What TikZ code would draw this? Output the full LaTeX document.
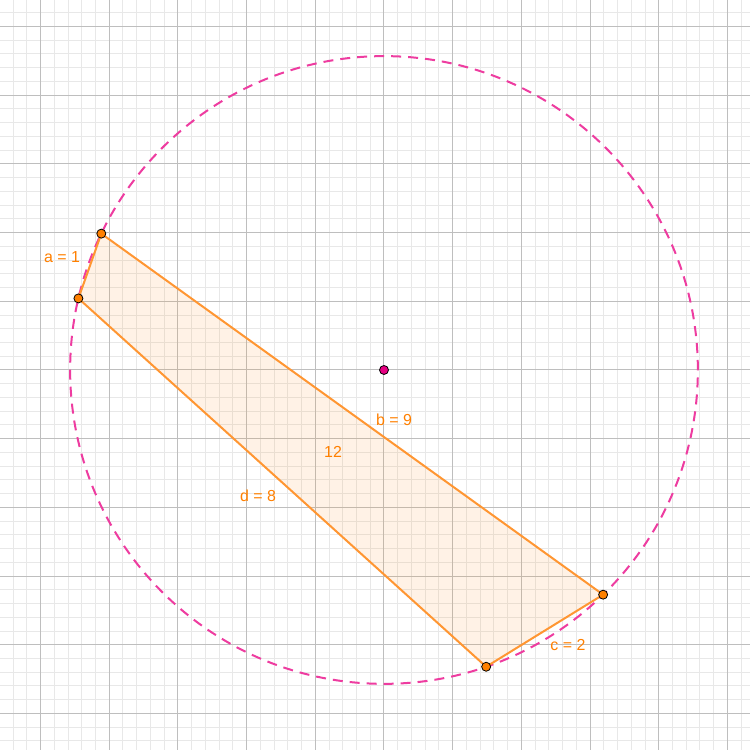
\documentclass[tikz,border=0pt]{standalone}
\usepackage{fontspec}
\setmainfont{Liberation Sans}
\usepackage{xcolor}
\usepackage{tikz}

\definecolor{gridlight}{RGB}{232,232,232}
\definecolor{griddark}{RGB}{190,190,190}
\definecolor{circpink}{RGB}{238,60,160}
\definecolor{centremag}{RGB}{230,0,130}
\definecolor{ggorange}{RGB}{255,150,50}
\definecolor{dotorange}{RGB}{255,128,0}
\definecolor{lblorange}{RGB}{255,128,0}

\begin{document}
\begin{tikzpicture}[
  x=68.7bp, y=68.7bp,
  minorgrid/.style={draw=gridlight, line width=1bp},
  majorgrid/.style={draw=griddark, line width=1bp},
  circ/.style={draw=circpink, line width=2bp, dash pattern=on 10bp off 7bp},
  side/.style={draw=ggorange, line width=2bp, fill=ggorange, fill opacity=0.12, line join=round},
  vtx/.style={circle, draw=black, line width=0.8bp, fill=dotorange, inner sep=0pt, minimum size=9bp},
  ctr/.style={circle, draw=black, line width=0.8bp, fill=centremag, inner sep=0pt, minimum size=9bp},
  lbl/.style={text=lblorange, font=\fontsize{16}{19}\selectfont, inner sep=0pt},
]
% Frame and grid
\fill[white] (-5.59,-5.531) rectangle (5.328,5.386);
\useasboundingbox (-5.59,-5.531) rectangle (5.328,5.386);
\draw[minorgrid] (-5.59,-5.531) grid[step=0.2] (5.328,5.386);
\draw[majorgrid] (-5.59,-5.531) grid[step=1] (5.328,5.386);

% Circumcircle
\coordinate (O) at (0,0);
\draw[circ] (O) circle[radius=4.569];

% Vertices of the cyclic quadrilateral
\coordinate (A) at (154.25:4.569);
\coordinate (B) at (166.815:4.569);
\coordinate (C) at (288.995:4.569);
\coordinate (D) at (314.285:4.569);
\draw[side] (A) -- (B) -- (C) -- (D) -- cycle;

% Points
\node[ctr] (Om) at (O) {};
\node[vtx] (Ap) at (A) {};
\node[vtx] (Bp) at (B) {};
\node[vtx] (Cp) at (C) {};
\node[vtx] (Dp) at (D) {};

% Labels
\node[lbl] (la) at (-4.687,1.645) {a = 1};
\node[lbl] (lb) at (0.146,-0.728) {b = 9};
\node[lbl] (lc) at (2.678,-4.003) {c = 2};
\node[lbl] (ld) at (-1.834,-1.834) {d = 8};
\node[lbl] (area) at (-0.742,-1.194) {12};
\end{tikzpicture}
\end{document}
